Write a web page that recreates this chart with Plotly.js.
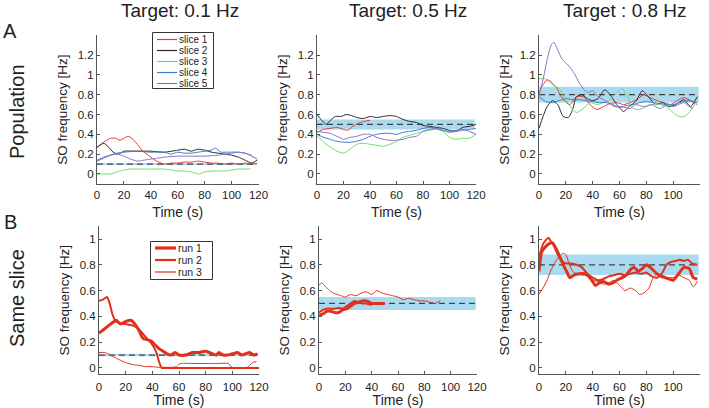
<!DOCTYPE html>
<html><head><meta charset="utf-8">
<script src="https://cdn.plot.ly/plotly-3.0.1.min.js"></script>
<style>html,body{margin:0;padding:0;background:#fff}#chart{width:709px;height:408px}</style>
</head><body><div id="chart"></div>
<script>
// ---------- labels ----------
const panelTitles = ['Target: 0.1 Hz', 'Target: 0.5 Hz', 'Target : 0.8 Hz'];
const targets = [0.1, 0.5, 0.8];
const bandFrac = 0.1;
const bandT = [0, 119];
const rowLabels = ['Population', 'Same slice'];
const panelLetters = ['A', 'B'];
const sliceNames = ['slice 1', 'slice 2', 'slice 3', 'slice 4', 'slice 5'];
const runNames = ['run 1', 'run 2', 'run 3'];
const xTickVals = [0, 20, 40, 60, 80, 100, 120];
const yTickValsA = [0, 0.2, 0.4, 0.6, 0.8, 1, 1.2];
const yTickTextA = ['0', '0.2', '0.4', '0.6', '0.8', '1', '1.2'];
const yTickValsB = [0, 0.2, 0.4, 0.6, 0.8, 1];
const yTickTextB = ['0', '0.2', '0.4', '0.6', '0.8', '1'];
const xTitle = 'Time (s)';
const yTitle = 'SO frequency [Hz]';

// ---------- A: population, target 0.1 Hz ----------
const a1s1t = [0,3,6,10,14,17,20,23,26,30,34,38,42,46,50,55,60,65,70,75,80,85,90,95,100,105,110,115,119];
const a1s1v = [0.27,0.30,0.33,0.36,0.36,0.34,0.36,0.38,0.36,0.30,0.23,0.19,0.15,0.12,0.10,0.11,0.11,0.12,0.12,0.13,0.12,0.11,0.11,0.10,0.11,0.10,0.11,0.10,0.11];
const a1s2t = [0,5,8,12,16,20,30,40,50,60,65,70,75,80,85,90,95,100,105,110,115,119];
const a1s2v = [0.27,0.31,0.28,0.22,0.20,0.23,0.23,0.23,0.22,0.24,0.25,0.23,0.25,0.24,0.22,0.21,0.20,0.19,0.17,0.14,0.11,0.14];
const a1s3t = [0,5,10,15,20,25,30,35,40,45,50,55,60,65,70,73,76,80,85,90,95,100,105,110,114];
const a1s3v = [0,0,0,0.02,0.04,0.05,0.05,0.05,0.05,0.05,0.05,0.04,0.03,0.03,0.02,0.01,0.0,0.02,0.03,0.03,0.03,0.04,0.05,0.05,0.05];
const a1s4t = [0,5,10,15,20,30,40,50,55,60,65,70,75,80,85,88,92,95,100,105,110,115,119];
const a1s4v = [0.13,0.16,0.19,0.21,0.22,0.23,0.22,0.22,0.20,0.22,0.21,0.21,0.22,0.23,0.24,0.26,0.22,0.22,0.22,0.22,0.21,0.18,0.15];
const a1s5t = [0,5,10,15,20,25,30,35,40,50,60,70,80,90,100,105,110,115];
const a1s5v = [0.14,0.17,0.19,0.20,0.18,0.15,0.13,0.14,0.15,0.17,0.18,0.18,0.18,0.19,0.21,0.22,0.21,0.19];

// ---------- A: population, target 0.5 Hz ----------
const a2s1t = [0,5,10,15,20,23,27,31,35,40];
const a2s1v = [0.42,0.45,0.46,0.47,0.45,0.44,0.48,0.51,0.53,0.54];
const a2s2t = [0,3,7,10,14,18,22,26,30,35,40,45,50,55,60,65,70,75,80,85,90,95,100,105,110,115,120];
const a2s2v = [0.60,0.55,0.50,0.54,0.58,0.58,0.60,0.59,0.57,0.56,0.58,0.57,0.58,0.59,0.58,0.55,0.53,0.52,0.49,0.48,0.47,0.46,0.44,0.43,0.47,0.48,0.50];
const a2s3t = [0,5,10,15,20,25,30,35,40,45,50,55,60,65,70,75,80,85,90,95,100,105,110,115,120];
const a2s3v = [0.39,0.32,0.27,0.23,0.21,0.25,0.30,0.31,0.30,0.29,0.28,0.30,0.33,0.37,0.39,0.41,0.43,0.44,0.45,0.43,0.37,0.35,0.36,0.36,0.40];
const a2s4t = [0,5,10,15,20,25,30,35,40,45,50,55,60,65,70,75,80,85,90,95,100,105,110,115,120];
const a2s4v = [0.40,0.37,0.35,0.33,0.32,0.32,0.33,0.35,0.38,0.40,0.41,0.41,0.40,0.42,0.43,0.44,0.46,0.47,0.46,0.44,0.43,0.44,0.45,0.43,0.40];
const a2s5t = [0,5,10,15,20,25,30,35,40,45,50,55,60,65,70,75,80,85,90,95,100,105,110,115,120];
const a2s5v = [0.43,0.42,0.41,0.38,0.35,0.37,0.38,0.40,0.40,0.37,0.35,0.34,0.34,0.35,0.37,0.38,0.43,0.45,0.46,0.44,0.42,0.43,0.44,0.45,0.46];

// ---------- A: population, target 0.8 Hz ----------
const a3s1t = [0,3,6,9,13,18,23,28,33,38,43,48,53,58,63,68,73,78,83,88,93,98,103,108,113,118];
const a3s1v = [0.82,0.90,0.95,0.93,0.87,0.75,0.70,0.78,0.78,0.70,0.65,0.68,0.71,0.72,0.70,0.72,0.75,0.80,0.77,0.74,0.72,0.70,0.74,0.77,0.74,0.70];
const a3s2t = [0,3,6,10,14,18,22,25,28,32,36,40,44,49,53,58,63,67,72,77,82,87,92,97,102,108,113,118];
const a3s2v = [0.46,0.58,0.68,0.74,0.70,0.58,0.57,0.65,0.78,0.80,0.76,0.74,0.76,0.85,0.80,0.70,0.63,0.68,0.73,0.84,0.77,0.70,0.72,0.68,0.70,0.75,0.68,0.78];
const a3s3t = [0,5,10,15,20,25,28,33,38,43,48,53,58,62,66,70,75,80,85,90,95,100,104,108,112,117];
const a3s3v = [0.96,0.96,0.90,0.86,0.75,0.65,0.62,0.66,0.72,0.70,0.72,0.75,0.82,0.86,0.78,0.66,0.65,0.68,0.70,0.70,0.68,0.62,0.58,0.58,0.62,0.72];
const a3s4t = [0,5,10,15,20,25,30,35,40,45,50,55,60,65,70,75,80,85,90,95,100,105,110,115,118];
const a3s4v = [0.78,0.73,0.72,0.74,0.76,0.75,0.75,0.74,0.73,0.72,0.72,0.70,0.67,0.69,0.70,0.72,0.73,0.72,0.71,0.70,0.70,0.72,0.74,0.73,0.72];
const a3s5t = [0,3,6,9,11,13,15,17,20,23,26,30,33,36,40,44,48,52,56,62,68,72,78,84,90,96,100,104,108,112,115];
const a3s5v = [0.80,0.95,1.15,1.30,1.33,1.28,1.22,1.16,1.12,1.08,1.02,0.92,0.86,0.82,0.84,0.78,0.75,0.72,0.68,0.68,0.66,0.70,0.68,0.70,0.66,0.70,0.68,0.70,0.72,0.68,0.66];

// ---------- B: same slice, target 0.1 Hz ----------
const b1r1t = [0,5,10,13,16,20,24,27,30,33,36,39,42,45,48,51,54,57,60,65,70,75,80,85,88,90,93,96,100,104,107,110,113,116,119];
const b1r1v = [0.27,0.31,0.35,0.37,0.34,0.36,0.37,0.34,0.29,0.23,0.22,0.21,0.18,0.15,0.13,0.11,0.10,0.12,0.10,0.10,0.12,0.12,0.13,0.11,0.10,0.12,0.10,0.10,0.11,0.12,0.10,0.11,0.12,0.10,0.11];
const b1r2t = [0,3,6,8,10,12,15,20,25,30,35,40,43,45,47,50,120];
const b1r2v = [0.52,0.53,0.55,0.50,0.42,0.37,0.35,0.34,0.33,0.30,0.24,0.18,0.12,0.05,0.0,0.0,0.0];
const b1r3t = [0,4,7,10,14,18,22,26,30,35,40,45,50,55,58,60,62,70,80,90,97,99,101,110,112,115,118];
const b1r3v = [0.12,0.12,0.11,0.09,0.07,0.05,0.035,0.025,0.02,0.01,0.01,0.005,0.005,0.005,0.01,0.03,0.035,0.035,0.035,0.035,0.035,0.01,0.0,0.0,0.01,0.04,0.05];

// ---------- B: same slice, target 0.5 Hz ----------
const b2r1t = [0,3,6,9,12,15,18,21,24,27,30,33,36,38,40,43,46,50];
const b2r1v = [0.41,0.42,0.44,0.44,0.43,0.43,0.45,0.46,0.48,0.50,0.51,0.52,0.52,0.51,0.50,0.50,0.50,0.50];
const b2r2t = [0,3,6,9,12,15,18,21,24,27,30,33,36,39,42,45,48];
const b2r2v = [0.43,0.45,0.46,0.46,0.46,0.465,0.46,0.48,0.50,0.52,0.51,0.50,0.50,0.49,0.50,0.50,0.50];
const b2r3t = [0,2,5,8,11,14,17,20,24,28,32,36,40,44,48,52,56,60,64,68,72,76,80,84,88,92];
const b2r3v = [0.64,0.66,0.63,0.60,0.58,0.57,0.56,0.55,0.57,0.56,0.58,0.59,0.57,0.60,0.58,0.57,0.56,0.55,0.53,0.54,0.53,0.52,0.52,0.51,0.50,0.52];

// ---------- B: same slice, target 0.8 Hz ----------
const b3r1t = [0,2,4,7,10,13,16,19,21,23,26,30,34,37,40,42,45,48,52,55,58,62,65,68,71,74,77,80,84,88,91,94,97,100,104,108,112,115,118];
const b3r1v = [0.75,0.90,0.93,0.96,0.97,0.92,0.85,0.78,0.74,0.70,0.72,0.73,0.73,0.71,0.67,0.64,0.66,0.67,0.65,0.66,0.68,0.70,0.72,0.76,0.78,0.75,0.77,0.80,0.77,0.73,0.71,0.70,0.69,0.68,0.73,0.78,0.77,0.70,0.69];
const b3r2t = [0,3,5,7,9,11,13,15,18,21,24,28,32,36,40,44,48,52,56,60,64,68,72,76,80,84,88,92,95,98,102,105,108,111,114,118];
const b3r2v = [0.86,0.96,0.99,1.01,0.98,0.95,0.90,0.86,0.82,0.81,0.81,0.80,0.78,0.73,0.70,0.68,0.69,0.71,0.72,0.73,0.72,0.73,0.74,0.73,0.74,0.71,0.70,0.74,0.80,0.82,0.83,0.84,0.83,0.84,0.81,0.80];
const b3r3t = [0,3,6,9,12,15,18,20,22,25,28,32,36,40,44,48,52,56,60,64,68,72,75,78,82,85,88,92,96,100,104,108,112,115,118];
const b3r3v = [0.57,0.62,0.68,0.76,0.82,0.86,0.89,0.88,0.82,0.75,0.73,0.72,0.72,0.68,0.67,0.65,0.66,0.68,0.64,0.60,0.62,0.60,0.57,0.58,0.62,0.70,0.73,0.72,0.70,0.70,0.72,0.70,0.68,0.63,0.67];

// ---------- grouping ----------
const popPanels = [
  [[a1s1t,a1s1v],[a1s2t,a1s2v],[a1s3t,a1s3v],[a1s4t,a1s4v],[a1s5t,a1s5v]],
  [[a2s1t,a2s1v],[a2s2t,a2s2v],[a2s3t,a2s3v],[a2s4t,a2s4v],[a2s5t,a2s5v]],
  [[a3s1t,a3s1v],[a3s2t,a3s2v],[a3s3t,a3s3v],[a3s4t,a3s4v],[a3s5t,a3s5v]]
];
const samePanels = [
  [[b1r1t,b1r1v],[b1r2t,b1r2v],[b1r3t,b1r3v]],
  [[b2r1t,b2r1v],[b2r2t,b2r2v],[b2r3t,b2r3v]],
  [[b3r1t,b3r1v],[b3r2t,b3r2v],[b3r3t,b3r3v]]
];

// ---------- styles ----------
const sliceColors = ['#e63b30', '#2b2b2b', '#66e066', '#3a7cc6', '#8d72c8'];
const runColor = '#e2301c';
const runWidths = [3, 2, 1];
const bandColor = '#a9daf0';
const dashColor = '#444444';
const FONT = 'Liberation Sans, Arial, Helvetica, sans-serif';

const W = 709, H = 408;
const xDom = [[97, 258.5], [317, 476], [539, 700], [99, 259], [319, 477], [539, 700]];
const yDomA = [183.9, 35.2], yDomB = [374.4, 226.1];

const traces = [];
function addPanel(idx, series, colors, widths, target) {
  const xa = 'x' + (idx === 0 ? '' : idx + 1), ya = 'y' + (idx === 0 ? '' : idx + 1);
  const lo = target * (1 - bandFrac), hi = target * (1 + bandFrac);
  traces.push({x: [bandT[0], bandT[1], bandT[1], bandT[0], bandT[0]], y: [lo, lo, hi, hi, lo],
    xaxis: xa, yaxis: ya, type: 'scatter', mode: 'lines', fill: 'toself', fillcolor: bandColor,
    line: {width: 0, color: bandColor}, hoverinfo: 'skip', showlegend: false});
  traces.push({x: bandT, y: [target, target], xaxis: xa, yaxis: ya, type: 'scatter', mode: 'lines',
    line: {color: dashColor, width: 1.2, dash: '6px,4px'}, hoverinfo: 'skip', showlegend: false});
  series.forEach((s, i) => {
    traces.push({x: s[0], y: s[1], xaxis: xa, yaxis: ya, type: 'scatter', mode: 'lines',
      line: {color: colors[i], width: widths[i], shape: 'spline', smoothing: 0.6}, showlegend: false});
  });
}
popPanels.forEach((p, i) => addPanel(i, p, sliceColors, [1, 1, 1, 1, 1], targets[i]));
samePanels.forEach((p, i) => addPanel(i + 3, p, [runColor, runColor, runColor], runWidths, targets[i]));

const layout = {
  width: W, height: H, margin: {l: 0, r: 0, t: 0, b: 0},
  paper_bgcolor: '#fff', plot_bgcolor: 'rgba(0,0,0,0)',
  font: {family: FONT, size: 11, color: '#222'},
  showlegend: false, shapes: [], annotations: []
};
for (let i = 0; i < 6; i++) {
  const rowA = i < 3;
  const yd = rowA ? yDomA : yDomB;
  const sfx = i === 0 ? '' : String(i + 1);
  layout['xaxis' + sfx] = {
    domain: [xDom[i][0] / W, xDom[i][1] / W], range: [0, 120], anchor: 'y' + sfx,
    tickvals: xTickVals, ticks: 'inside', ticklen: 3, tickcolor: '#555',
    showline: true, linecolor: '#555', linewidth: 1, showgrid: false, zeroline: false,
    tickfont: {size: 11.5, color: '#222'}, ticklabelstandoff: rowA ? 0 : 2,
    title: {text: xTitle, font: {size: 14, color: '#222'}, standoff: rowA ? 7 : 3}, automargin: false
  };
  layout['yaxis' + sfx] = {
    domain: [1 - yd[0] / H, 1 - yd[1] / H], range: rowA ? [-0.1, 1.4] : [-0.05, 1.1], anchor: 'x' + sfx,
    tickvals: rowA ? yTickValsA : yTickValsB, ticktext: rowA ? yTickTextA : yTickTextB,
    ticks: 'inside', ticklen: 3, tickcolor: '#555',
    showline: true, linecolor: '#555', linewidth: 1, showgrid: false, zeroline: false,
    tickfont: {size: 11.5, color: '#222'},
    title: {text: yTitle, font: {size: 13.5, color: '#222'}, standoff: 6}, automargin: false
  };
}
// column titles
const titleX = [180, 408, 625];
panelTitles.forEach((t, i) => layout.annotations.push({text: t, x: titleX[i] / W, y: 1 - 10 / H,
  xref: 'paper', yref: 'paper', showarrow: false, xanchor: 'center', yanchor: 'middle',
  font: {size: 19, color: '#222'}}));
// row letters and labels
const letterY = [31, 222], rowLabelY = [112, 298];
panelLetters.forEach((t, i) => layout.annotations.push({text: t, x: 10 / W, y: 1 - letterY[i] / H,
  xref: 'paper', yref: 'paper', showarrow: false, xanchor: 'center', yanchor: 'middle',
  font: {size: 20, color: '#222'}}));
rowLabels.forEach((t, i) => layout.annotations.push({text: t, x: 17 / W, y: 1 - rowLabelY[i] / H,
  xref: 'paper', yref: 'paper', showarrow: false, xanchor: 'center', yanchor: 'middle', textangle: -90,
  font: {size: 20, color: '#222'}}));

// legends (drawn as boxes with sample lines)
function drawLegend(names, colors, widths, box, y0, dy, lx0, lx1, tx, fs) {
  layout.shapes.push({type: 'rect', xref: 'paper', yref: 'paper', x0: box[0] / W, x1: box[1] / W,
    y0: 1 - box[2] / H, y1: 1 - box[3] / H, line: {color: '#333', width: 1}, fillcolor: '#ffffff', layer: 'above'});
  names.forEach((n, i) => {
    const y = 1 - (y0 + i * dy) / H;
    layout.shapes.push({type: 'line', xref: 'paper', yref: 'paper', x0: lx0 / W, x1: lx1 / W, y0: y, y1: y,
      line: {color: colors[i], width: widths[i] + 0.2}, layer: 'above'});
    layout.annotations.push({text: n, x: tx / W, y: y, xref: 'paper', yref: 'paper', showarrow: false,
      xanchor: 'left', yanchor: 'middle', borderpad: 0, font: {size: fs, color: '#222'}});
  });
}
drawLegend(sliceNames, sliceColors, [1, 1, 1, 1, 1], [152.5, 213.5, 32.5, 88.5], 39.5, 11, 157, 177, 178, 10);
drawLegend(runNames, [runColor, runColor, runColor], runWidths, [150.5, 212.5, 241.5, 279.5], 248, 12, 155, 176, 177, 10.5);

Plotly.newPlot('chart', traces, layout, {displayModeBar: false, staticPlot: true});
</script>
</body></html>
